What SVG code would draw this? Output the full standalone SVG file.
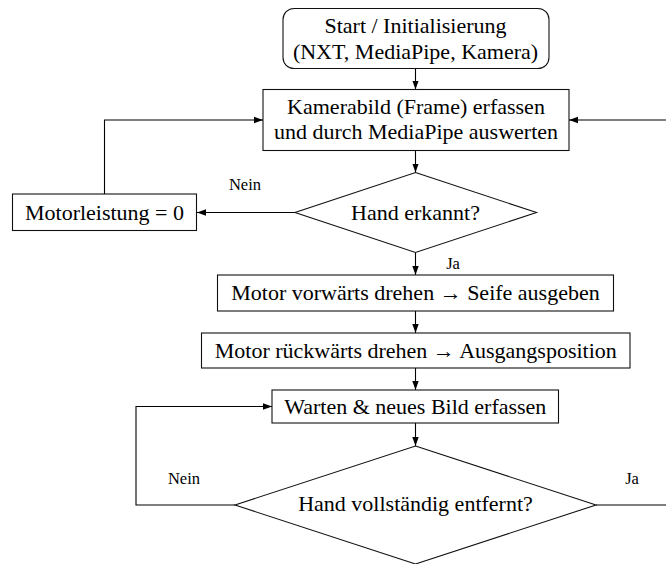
<svg xmlns="http://www.w3.org/2000/svg" width="666" height="564" viewBox="0 0 666 564">
  <defs>
    <marker id="arr" markerUnits="userSpaceOnUse" markerWidth="10" markerHeight="8" refX="9" refY="4" orient="auto">
      <path d="M0,0.8 L9,4 L0,7.2 Z" fill="#000"/>
    </marker>
    <style>
      .box { fill: #fff; stroke: #111; stroke-width: 1.1; }
      text { font-family: "Liberation Serif", Tinos, "Nimbus Roman", "Times New Roman", Times, "DejaVu Serif", "Noto Serif", serif; fill: #000; text-anchor: middle; }
      .t { font-size: 22px; }
      .lbl { font-size: 16.5px; }
      .c { fill: none; stroke: #000; stroke-width: 1.1; marker-end: url(#arr); }
    </style>
  </defs>
  <rect width="666" height="564" fill="#fff"/>

  <g id="connectors">
    <path class="c" d="M415.5,68.5 V89.5"/>
    <path class="c" d="M415.5,150.5 V172.5"/>
    <path class="c" d="M295,212.5 H197"/>
    <path class="c" d="M104.5,194 V120 H263"/>
    <path class="c" d="M415.5,252.5 V275"/>
    <path class="c" d="M415.5,311 V333"/>
    <path class="c" d="M415.5,368 V390"/>
    <path class="c" d="M415.5,423 V446"/>
    <path class="c" d="M235,505 H136 V406.5 H272"/>
    <path class="c" d="M596,505 H690 V120 H569"/>
    <text class="lbl" x="245" y="190">Nein</text>
    <text class="lbl" x="453" y="269">Ja</text>
    <text class="lbl" x="184" y="484">Nein</text>
    <text class="lbl" x="632" y="484">Ja</text>
  </g>

  <g id="start">
    <rect class="box" x="283" y="8.5" width="266" height="60" rx="11" ry="11"/>
    <text class="t" x="415.5" y="33">Start / Initialisierung</text>
    <text class="t" x="415.5" y="58.5">(NXT, MediaPipe, Kamera)</text>
  </g>

  <g id="frame">
    <rect class="box" x="263" y="89.5" width="306" height="61"/>
    <text class="t" x="416" y="113.5">Kamerabild (Frame) erfassen</text>
    <text class="t" x="416" y="139">und durch MediaPipe auswerten</text>
  </g>

  <g id="hand1">
    <polygon class="box" points="415.5,172.5 536.5,212.5 415.5,252.5 295,212.5"/>
    <text class="t" x="415.5" y="219.5">Hand erkannt?</text>
  </g>

  <g id="motor0">
    <rect class="box" x="12.5" y="194" width="184" height="36.5"/>
    <text class="t" x="104.5" y="219.5">Motorleistung = 0</text>
  </g>

  <g id="forward">
    <rect class="box" x="217.5" y="275" width="396" height="36"/>
    <text class="t" x="415.5" y="300">Motor vorwärts drehen → Seife ausgeben</text>
  </g>

  <g id="backward">
    <rect class="box" x="201.5" y="333" width="428.5" height="35"/>
    <text class="t" x="415.8" y="357.5">Motor rückwärts drehen → Ausgangsposition</text>
  </g>

  <g id="wait">
    <rect class="box" x="272" y="390" width="286.5" height="33"/>
    <text class="t" x="415.3" y="413.5">Warten &amp; neues Bild erfassen</text>
  </g>

  <g id="hand2">
    <polygon class="box" points="415.5,446 596,505 415.5,564 235,505"/>
    <text class="t" x="415.5" y="511">Hand vollständig entfernt?</text>
  </g>
</svg>
